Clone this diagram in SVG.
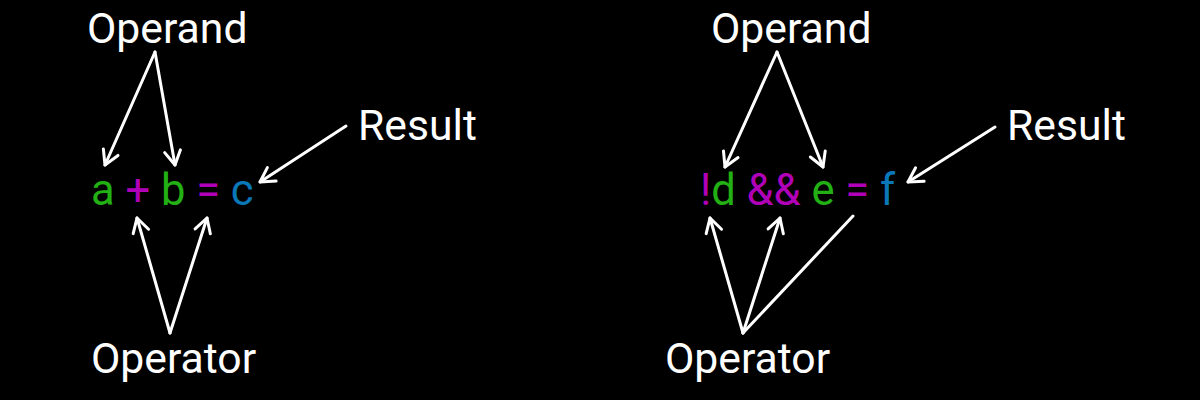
<svg xmlns="http://www.w3.org/2000/svg" width="1200" height="400" viewBox="0 0 1200 400">
<defs>
<style>
.lbl{font-family:Roboto,"Liberation Sans",sans-serif;font-size:42.7px;fill:#ffffff}
.eq{font-family:Roboto,"Liberation Sans",sans-serif;font-size:43.5px}
.g{fill:#22b014}.m{fill:#b000b8}.b{fill:#0a78b8}
.c{stroke:#ffffff;stroke-width:3;fill:none;stroke-linecap:round}
</style>
<marker id="ah" viewBox="0 0 20 20" refX="18" refY="10" markerWidth="20" markerHeight="20" markerUnits="userSpaceOnUse" orient="auto">
<path d="M4,2 L18,10 L4,18" fill="none" stroke="#ffffff" stroke-width="3" stroke-linecap="round" stroke-linejoin="round"/>
</marker>
</defs>
<rect width="1200" height="400" fill="#000000"/>
<g id="left-operand"><text class="lbl" x="87" y="43">Operand</text></g>
<g id="left-result"><text class="lbl" x="358" y="140">Result</text></g>
<g id="left-operator"><text class="lbl" x="91" y="373">Operator</text></g>
<g id="left-expr"><text class="eq" x="91" y="205" xml:space="preserve"><tspan class="g">a</tspan> <tspan class="m">+</tspan> <tspan class="g">b</tspan> <tspan class="m">=</tspan> <tspan class="b">c</tspan></text></g>
<g id="right-operand"><text class="lbl" x="711" y="43">Operand</text></g>
<g id="right-result"><text class="lbl" x="1007" y="140">Result</text></g>
<g id="right-operator"><text class="lbl" x="665" y="373">Operator</text></g>
<g id="right-expr"><text class="eq" x="700" y="205" xml:space="preserve"><tspan class="m">!</tspan><tspan class="g">d</tspan> <tspan class="m">&amp;&amp;</tspan> <tspan class="g">e</tspan> <tspan class="m">=</tspan> <tspan class="b">f</tspan></text></g>
<g id="connectors">
<line class="c" x1="155" y1="52" x2="105" y2="165" marker-end="url(#ah)"/>
<line class="c" x1="155" y1="52" x2="175" y2="165" marker-end="url(#ah)"/>
<line class="c" x1="346" y1="126" x2="260" y2="182" marker-end="url(#ah)"/>
<line class="c" x1="170" y1="333" x2="137" y2="218" marker-end="url(#ah)"/>
<line class="c" x1="170" y1="333" x2="207" y2="218" marker-end="url(#ah)"/>
<line class="c" x1="777" y1="52" x2="725" y2="167" marker-end="url(#ah)"/>
<line class="c" x1="777" y1="52" x2="823" y2="167" marker-end="url(#ah)"/>
<line class="c" x1="995" y1="127" x2="908" y2="182" marker-end="url(#ah)"/>
<line class="c" x1="743" y1="333" x2="710" y2="218" marker-end="url(#ah)"/>
<line class="c" x1="743" y1="333" x2="780" y2="218" marker-end="url(#ah)"/>
<line class="c" x1="743" y1="333" x2="853" y2="216"/>
</g>
</svg>
